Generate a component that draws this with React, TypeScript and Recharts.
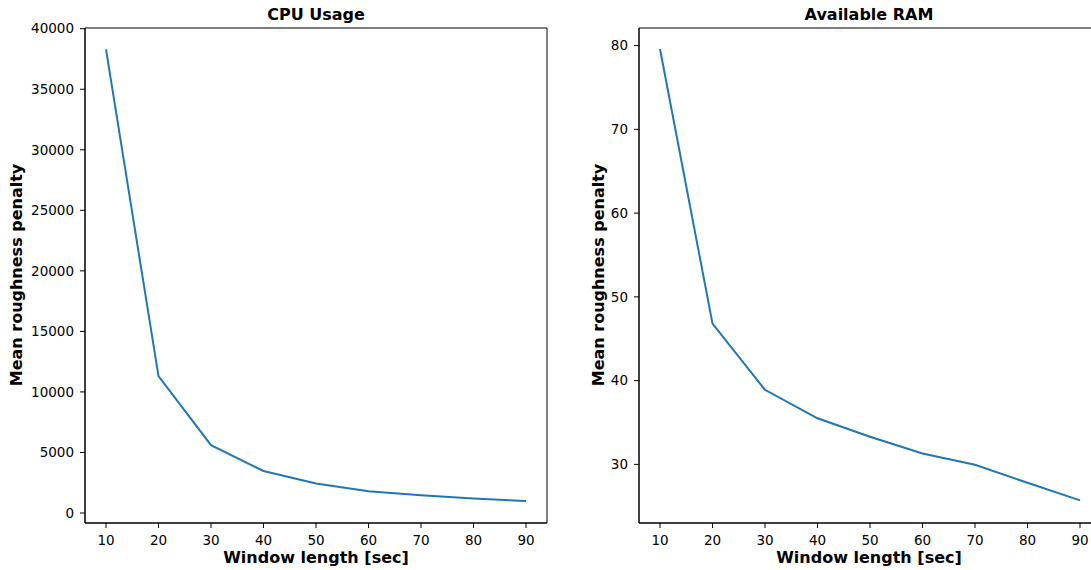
import { LineChart, Line, XAxis, YAxis, ReferenceArea } from "recharts";

const windowLengths = [10, 20, 30, 40, 50, 60, 70, 80, 90];
const cpuPenalty = [38300, 11300, 5600, 3470, 2430, 1790, 1460, 1190, 990];
const ramPenalty = [79.6, 46.8, 38.9, 35.5, 33.3, 31.3, 29.95, 27.8, 25.7];

const xTicks = [10, 20, 30, 40, 50, 60, 70, 80, 90];
const cpuTicks = [0, 5000, 10000, 15000, 20000, 25000, 30000, 35000, 40000];
const ramTicks = [30, 40, 50, 60, 70, 80];

const FONT = "DejaVu Sans";
const BLUE = "#1f77b4";

const tickStyle = { fill: "#000", fontSize: 13.5, fontFamily: FONT };

interface PanelProps {
  values: number[];
  yDomain: [number, number];
  yTicks: number[];
  yAxisWidth: number;
  width: number;
}

function Panel({ values, yDomain, yTicks, yAxisWidth, width }: PanelProps) {
  const data = windowLengths.map((w, i) => ({ w, v: values[i] }));
  return (
    <LineChart
      width={width}
      height={570}
      data={data}
      margin={{ top: 28, right: 20, left: 0, bottom: 0 }}
    >
      <XAxis
        dataKey="w"
        type="number"
        domain={[6, 94]}
        ticks={xTicks}
        allowDataOverflow
        height={47}
        tick={tickStyle}
        tickSize={5}
        tickMargin={7}
        stroke="#000"
      />
      <YAxis
        type="number"
        domain={yDomain}
        ticks={yTicks}
        allowDataOverflow
        width={yAxisWidth}
        tick={tickStyle}
        tickSize={5}
        tickMargin={6}
        stroke="#000"
      />
      <ReferenceArea
        x1={6}
        x2={94}
        y1={yDomain[0]}
        y2={yDomain[1]}
        fill="none"
        stroke="#000"
        strokeWidth={1}
        fillOpacity={0}
      />
      <Line
        type="linear"
        dataKey="v"
        stroke={BLUE}
        strokeWidth={2}
        dot={false}
        isAnimationActive={false}
      />
    </LineChart>
  );
}

export default function App() {
  return (
    <div
      style={{
        position: "absolute",
        left: 0,
        top: 0,
        width: 1091,
        height: 570,
        overflow: "hidden",
        background: "#fff",
      }}
    >
      <div style={{ position: "absolute", left: 0, top: 0 }}>
        <Panel
          values={cpuPenalty}
          yDomain={[-826, 40058]}
          yTicks={cpuTicks}
          yAxisWidth={85}
          width={567}
        />
      </div>
      <div style={{ position: "absolute", left: 559, top: 0 }}>
        <Panel
          values={ramPenalty}
          yDomain={[23.0, 82.1]}
          yTicks={ramTicks}
          yAxisWidth={80}
          width={562}
        />
      </div>
      <svg
        width={1091}
        height={570}
        style={{ position: "absolute", left: 0, top: 0, pointerEvents: "none" }}
        fontFamily={FONT}
        fontWeight="bold"
        fontSize={16}
      >
        <text x={316} y={20} textAnchor="middle">CPU Usage</text>
        <text x={869} y={20} textAnchor="middle">Available RAM</text>
        <text x={316} y={563} textAnchor="middle">Window length [sec]</text>
        <text x={869} y={563} textAnchor="middle">Window length [sec]</text>
        <text x={22} y={275} textAnchor="middle" transform="rotate(-90 22 275)">
          Mean roughness penalty
        </text>
        <text x={604} y={275} textAnchor="middle" transform="rotate(-90 604 275)">
          Mean roughness penalty
        </text>
      </svg>
    </div>
  );
}
